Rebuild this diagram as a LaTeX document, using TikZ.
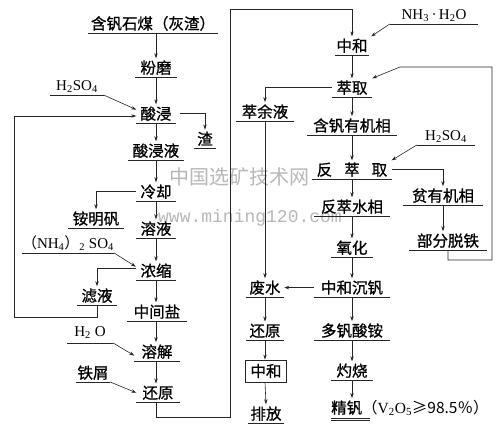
\documentclass[tikz,border=0pt]{standalone}
\usepackage{fontspec}
\setmainfont{Liberation Serif}
\newfontfamily\cjk{Noto Sans CJK SC}[FakeBold=0.9]
\newfontfamily\cjklight{Noto Sans CJK SC}
\newfontfamily\wmono{Liberation Mono}
\usetikzlibrary{arrows.meta,calc}
\tikzset{
  lab/.style={font=\cjk\fontsize{15.5pt}{18pt}\selectfont, inner xsep=0pt, inner ysep=2pt, anchor=south},
  lat/.style={font=\rmfamily\fontsize{15pt}{18pt}\selectfont},
  uline/.style={line width=0.8pt, draw=black!85},
  ul/.style={lab, minimum width=#1, append after command={\pgfextra{\let\ulnode\tikzlastnode} (\ulnode.south west) edge[uline] (\ulnode.south east)}},
  arr/.style={-{Stealth[length=5pt,width=3.4pt]}, line width=0.6pt, draw=black!85},
  conn/.style={line width=0.6pt, draw=black!85},
  boxn/.style={font=\cjk\fontsize{15.5pt}{18pt}\selectfont, draw=black!85, line width=0.8pt, minimum width=41pt, minimum height=22pt, inner sep=0pt},
  wm/.style={text=black!28, inner sep=0pt, text height=5pt, text depth=0pt}
}
\begin{document}
\begin{tikzpicture}[x=1pt,y=-1pt]
\fill[white] (0,0) rectangle (504,436);
\useasboundingbox (0,0) rectangle (504,436);
% watermark
\node[wm, font=\cjklight\fontsize{20pt}{22pt}\selectfont] (wm1) at (239,182) {中国选矿技术网};
\node[wm, font=\wmono\fontsize{18pt}{20pt}\selectfont] (wm2) at (250,220) {www.mining120.com};
% left column
\node[ul=130] (n1) at (153,33) {含钒石煤（灰渣）};
\node[ul=41] (n2) at (156,77) {粉磨};
\node[ul=53,lat] (hL) at (77,95) {H\textsubscript{2}SO\textsubscript{4}};
\node[ul=39] (n3) at (156,123) {酸浸};
\node[ul=22] (zha) at (205,148) {渣};
\node[ul=55] (n4) at (156,160) {酸浸液};
\node[ul=40] (n5) at (156,201) {冷却};
\node[ul=55] (amf) at (96,228) {铵明矾};
\node[ul=40] (n6) at (156,238) {溶液};
\node[ul=83,lat] (nh4) at (68,253) {{\cjklight （}NH\textsubscript{4}{\cjklight ）}\textsubscript{2} SO\textsubscript{4}};
\node[ul=40] (n7) at (156,280) {浓缩};
\node[ul=39] (lv) at (97,305) {滤液};
\node[ul=60] (n8) at (157,321) {中间盐};
\node[ul=46,lat,inner ysep=4pt] (h2o) at (90,343) {H\textsubscript{2} O};
\node[ul=45] (n9) at (157,361) {溶解};
\node[ul=34] (tx) at (93,382) {铁屑};
\node[ul=43] (n10) at (158,402) {还原};
% right column
\node[ul=88,lat] (nh3) at (434,24) {NH\textsubscript{3}\,·\,H\textsubscript{2}O};
\node[ul=34] (r1) at (352,55) {中和};
\node[ul=40] (r2) at (352,97) {萃取};
\node[ul=58] (cyy) at (265,121) {萃余液};
\node[ul=90] (r3) at (352,135) {含钒有机相};
\node[ul=58,lat] (hR) at (446,145) {H\textsubscript{2}SO\textsubscript{4}};
\node[ul=79] (r4) at (352,179) {反\hspace{12pt}萃\hspace{12pt}取};
\node[ul=80] (py) at (443,205) {贫有机相};
\node[ul=75] (r5) at (352,216) {反萃水相};
\node[ul=77] (bf) at (448,250) {部分脱铁};
\node[ul=42] (r6) at (352,257) {氧化};
\node[ul=75] (r7) at (352,297) {中和沉钒};
\node[ul=38] (fs) at (265,297) {废水};
\node[ul=75] (r8) at (352,340) {多钒酸铵};
\node[ul=37] (hy2) at (265,340) {还原};
\node[boxn] (zh2) at (266,371) {中和};
\node[ul=35] (pf) at (266,423) {排放};
\node[ul=42] (r9) at (352,380) {灼烧};
\node[lab, anchor=south west] (jf) at (331,418) {精钒{\cjklight （}{\rmfamily V\textsubscript{2}O\textsubscript{5}}{\cjklight ≥98.5％）}};
\draw[uline] (jf.south west) -- ++(39,0) ([yshift=-2.5pt]jf.south west) -- ++(39,0);
% left connectors
\draw[arr] (n2.north |- n1.south) -- (n2.north);
\draw[arr] (n2.south) -- (n3.north);
\draw[arr] (hL.south east) -- ([yshift=4pt]n3.west);
\draw[arr] ([xshift=4pt]n3.east) -| (zha.north);
\draw[arr] (n3.south) -- (n4.north);
\draw[arr] (n4.south) -- (n5.north);
\draw[arr] (n5.west) -| (amf.north);
\draw[arr] (n5.south) -- (n6.north);
\draw[arr] (n6.south) -- (n7.north);
\draw[arr] (nh4.south east) -- ([yshift=4pt]n7.west);
\draw[arr] ([yshift=2pt]n7.west) -| (lv.north);
\draw[arr] (n7.south) -- (n8.north -| n7.south);
\draw[arr] (n8.south -| n7.south) -- (n9.north -| n7.south);
\draw[arr] (n9.south -| n7.south) -- (n10.north -| n7.south);
\draw[arr] (lv.south) -- ++(0,12) -- (14,317) -- (14,116) -- (n3.west |- 14,116);
\draw[arr] (h2o.south east) -- ([yshift=-4pt]n9.west);
\draw[arr] (tx.south east) -- (n10.west);
\draw[arr] (n10.south -| n7.south) -- ++(0,15) -| (230,9) -| (r1.north);
% right connectors
\draw[arr] (nh3.south west) -- ([xshift=2pt]r1.north east);
\draw[arr] (r1.south) -- (r2.north);
\draw[arr] (bf.south) -- ++(0,10) -- (492,260) -- (492,67) -- (400,67) -- (r2.north east);
\draw[arr] (r2.west) -| (cyy.north);
\draw[arr] (cyy.south) -- (fs.north);
\draw[arr] (r2.south) -- (r3.north);
\draw[arr] (r3.south) -- (r4.north);
\draw[arr] (hR.south west) -- (r4.north east);
\draw[arr] (r4.east) -| (py.north);
\draw[arr] (py.south) -- (bf.north -| py.south);
\draw[arr] (r4.south) -- (r5.north);
\draw[arr] (r5.south) -- (r6.north);
\draw[arr] (r6.south) -- (r7.north);
\draw[arr] (r7.west) -- (fs.east);
\draw[arr] (r7.south) -- (r8.north);
\draw[arr] (r8.south) -- (r9.north);
\draw[arr] (r9.south) -- (r9.south |- jf.north);
\draw[arr] (fs.south) -- (hy2.north);
\draw[arr] (hy2.south) -- (zh2.north -| hy2.south);
\draw[arr] (zh2.south -| hy2.south) -- (pf.north);
\end{tikzpicture}
\end{document}
